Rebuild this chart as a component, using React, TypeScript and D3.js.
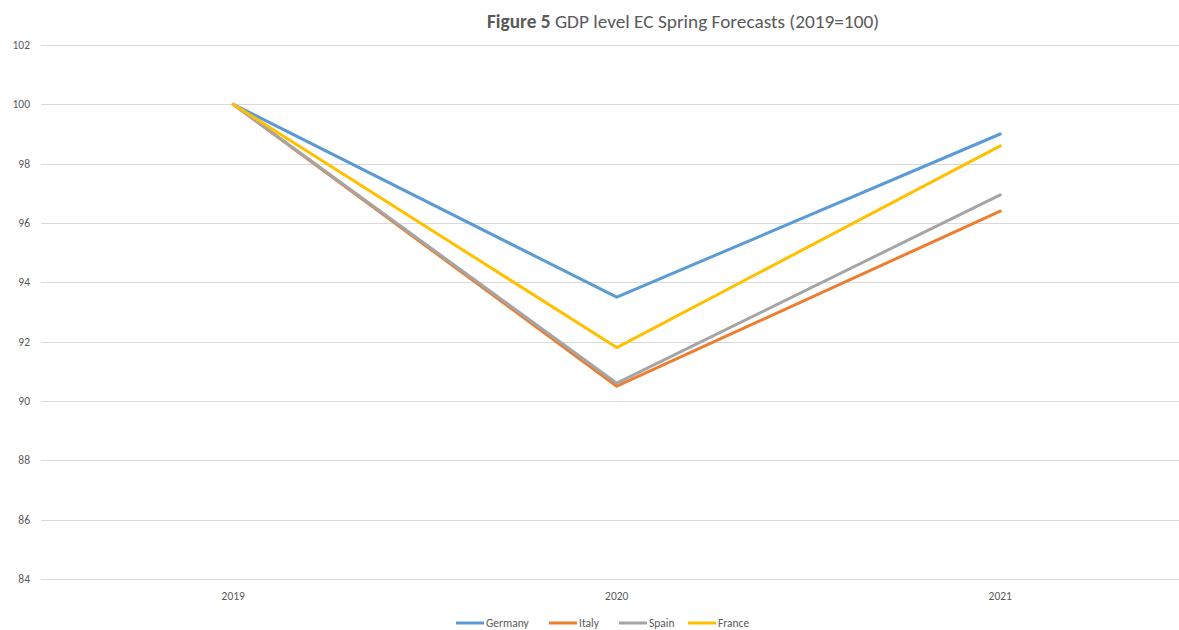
import * as d3 from 'd3';
import React, { useRef, useEffect } from 'react';

const years = ['2019', '2020', '2021'];
const countries = ['Germany', 'Italy', 'Spain', 'France'];
const colors = ['#5b9bd5', '#ed7d31', '#a5a5a5', '#ffc000'];
const germany = [100, 93.5, 99.0];
const italy = [100, 90.5, 96.4];
const spain = [100, 90.6, 96.95];
const france = [100, 91.8, 98.6];
const yTicks = [84, 86, 88, 90, 92, 94, 96, 98, 100, 102];

const series = [germany, italy, spain, france];

function LineChart() {
    const ref = useRef(null);

    useEffect(() => {
        const svg = d3.select(ref.current);
        svg.selectAll('*').remove();
        const width = 1179, height = 630;
        const font = "Calibri, Carlito, 'Open Sans', sans-serif";

        const x = d3.scalePoint().domain(years).range([41.5, 1192]).padding(0.5);
        const y = d3.scaleLinear().domain([84, 102]).range([579, 45]);

        // gridlines
        svg.append('g')
            .selectAll('line')
            .data(yTicks)
            .enter()
            .append('line')
            .attr('x1', 41)
            .attr('x2', width)
            .attr('y1', d => Math.round(y(d)) + 0.5)
            .attr('y2', d => Math.round(y(d)) + 0.5)
            .attr('stroke', '#d9d9d9')
            .attr('stroke-width', 1);

        // y labels
        svg.append('g')
            .selectAll('text')
            .data(yTicks)
            .enter()
            .append('text')
            .attr('x', 30)
            .attr('y', d => y(d) + 4)
            .attr('text-anchor', 'end')
            .attr('font-family', font)
            .attr('font-size', '11.5px')
            .attr('fill', '#595959')
            .text(d => d);

        // x labels
        svg.append('g')
            .selectAll('text')
            .data(years)
            .enter()
            .append('text')
            .attr('x', d => x(d))
            .attr('y', 600)
            .attr('text-anchor', 'middle')
            .attr('font-family', font)
            .attr('font-size', '11.5px')
            .attr('fill', '#595959')
            .text(d => d);

        const line = d3.line<number>()
            .x((d, i) => x(years[i]))
            .y(d => y(d));

        series.forEach((s, i) => {
            svg.append('path')
                .datum(s)
                .attr('d', line)
                .attr('fill', 'none')
                .attr('stroke', colors[i])
                .attr('stroke-width', 3)
                .attr('stroke-linejoin', 'round')
                .attr('stroke-linecap', 'round');
        });

        // title
        const title = svg.append('text')
            .attr('x', 683)
            .attr('y', 28)
            .attr('text-anchor', 'middle')
            .attr('font-family', font)
            .attr('font-size', '19.3px')
            .attr('fill', '#595959');
        title.append('tspan').attr('font-weight', 'bold').text('Figure 5');
        title.append('tspan').text(' GDP level EC Spring Forecasts (2019=100)');

        // legend
        const legendX = [456, 549, 619, 688];
        const legend = svg.append('g');
        countries.forEach((c, i) => {
            legend.append('line')
                .attr('x1', legendX[i])
                .attr('x2', legendX[i] + 28)
                .attr('y1', 623)
                .attr('y2', 623)
                .attr('stroke', colors[i])
                .attr('stroke-width', 3);
            legend.append('text')
                .attr('x', legendX[i] + 30)
                .attr('y', 627)
                .attr('font-family', font)
                .attr('font-size', '11.5px')
                .attr('fill', '#595959')
                .text(c);
        });
    }, []);

    return <svg ref={ref} width={1179} height={630} style={{ position: 'absolute', left: 0, top: 0, background: '#fff' }}></svg>;
}

export default function App() {
    return <LineChart />;
}
